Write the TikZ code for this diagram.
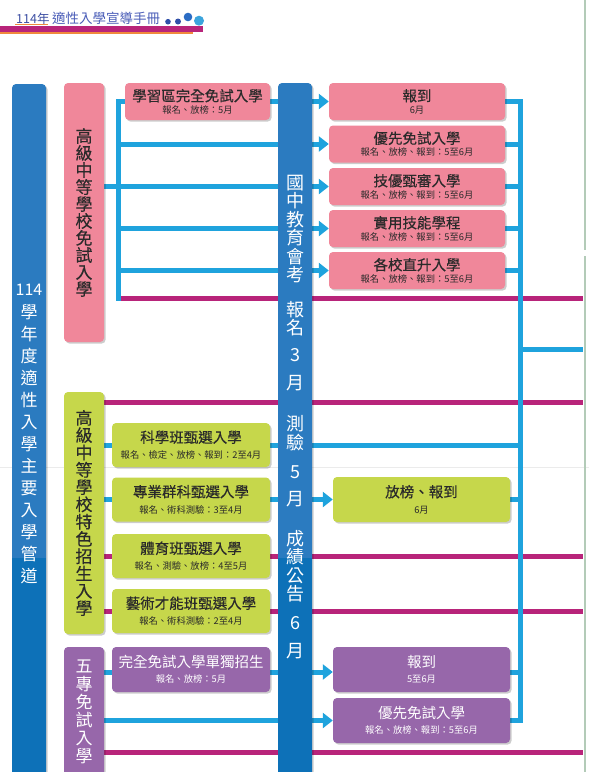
\documentclass[tikz,border=0pt]{standalone}
\usepackage{fontspec}
\setmainfont{Noto Sans CJK TC}
\newfontfamily\medf[FakeBold=0.35]{Noto Sans CJK TC}
\usetikzlibrary{arrows.meta,shadows}
\definecolor{cCB}{HTML}{1FA3DD}
\definecolor{cMG}{HTML}{B8247A}
\definecolor{cCol}{HTML}{2B7BC0}
\definecolor{cColD}{HTML}{0D71B8}
\definecolor{cPK}{HTML}{F0879A}
\definecolor{cGR}{HTML}{C6D74B}
\definecolor{cPU}{HTML}{9767AA}
\definecolor{cHd}{HTML}{3D4FA3}
\definecolor{cHd2}{HTML}{4A5DB8}
\definecolor{cOR}{HTML}{F08A3C}
\definecolor{cEdge}{HTML}{B3CBB8}
\definecolor{cTxt}{HTML}{2A2A2A}
\definecolor{cDot1}{HTML}{2F4FA8}
\definecolor{cDot2}{HTML}{2B6CC4}
\definecolor{cDot3}{HTML}{3BA4DC}
\pgfdeclarelayer{back}
\pgfdeclarelayer{bg}
\pgfsetlayers{back,bg,main}
\newcommand\subf{\normalfont\fontsize{9.3}{10}\selectfont}
\newcommand\twol[3][0pt]{#2\\[#1]{\subf #3}}
\begin{document}
\begin{tikzpicture}[x=1pt,y=-1pt,
  bl/.style={draw=cCB,line width=5pt},
  mgl/.style={draw=cMG,line width=5pt},
  arr/.style={-{Triangle[length=10pt,width=15pt]}},
  sh/.style={drop shadow={shadow xshift=1.6pt,shadow yshift=-1.6pt,fill=black,opacity=0.2}},
  box/.style={rectangle,rounded corners=4pt,inner sep=0pt,align=center,sh,font=\medf\fontsize{14.5}{15}\selectfont},
  pkb/.style={box,fill=cPK,text=cTxt,minimum height=37pt},
  grb/.style={box,fill=cGR,text=cTxt,minimum height=44pt},
  pub/.style={box,fill=cPU,text=white,minimum height=45pt},
  colnode/.style={rectangle,rounded corners=4pt,inner sep=0pt,fill=cCol,minimum width=34pt,sh},
  sec/.style={rectangle,rounded corners=4pt,inner sep=0pt,align=center,minimum width=40pt,sh},
  vtxt/.style={anchor=north,inner sep=0pt,align=center,text=white},
]
\useasboundingbox (0,0) rectangle (589,772);
\begin{pgfonlayer}{back}
\fill[white] (0,0) rectangle (589,772);
\draw[black!8,line width=0.7pt] (0,467) -- (589,467);
\end{pgfonlayer}

% header
\node[anchor=west,inner sep=0pt,text=cHd,font=\fontsize{12.5}{13}\selectfont] (h114) at (16,19) {114年};
\node[anchor=west,inner sep=0pt,text=cHd2,font=\fontsize{13.5}{14}\selectfont] (htitle) at (52,18.5) {適性入學宣導手冊};
\fill[cDot1] (168,21.7) circle (2.8);
\fill[cDot1] (178,21.5) circle (3);
\fill[cDot2] (188,17) circle (4.3);
\fill[cDot3] (199,20.7) circle (5);
\fill[cOR] (15,24) rectangle (48,25.3);
\fill[cMG] (0,26) rectangle (203,31.8);
\fill[cOR] (0,31.8) rectangle (193,33.5);

% right page edge
\draw[cEdge,line width=1.8pt] (585,0) -- (585,250) (585,256) -- (585,772);

% columns
\node[colnode,minimum height=716pt] (lcol) at (29,442) {};
\node[colnode,minimum height=717pt] (ccol) at (295,441.5) {};
\fill[cColD] (lcol.west |- 0,558) rectangle (lcol.south east);
\fill[cColD] (ccol.west |- 0,558) rectangle (ccol.south east);
\node[vtxt,font=\fontsize{17}{22}\selectfont] (ltxt) at (29,284) {{\fontsize{16}{22}\selectfont 114}\\[1pt]學\\年\\度\\適\\性\\入\\學\\主\\要\\入\\學\\管\\道};
\node[vtxt,font=\fontsize{18}{18.4}\selectfont] (ctxt) at (295,175) {國\\中\\教\\育\\會\\考\\[16.6pt]報\\名\\[8.6pt]3\\[9.6pt]月\\[22.6pt]測\\驗\\[10.6pt]5\\[8.6pt]月\\[21.6pt]成\\績\\公\\告\\[10.6pt]6\\[9.6pt]月};

% section columns
\node[sec,fill=cPK,text=cTxt,minimum height=259pt,font=\medf\fontsize{17}{17}\selectfont] (pkcol) at (84,212.5) {高\\級\\中\\等\\學\\校\\免\\試\\入\\學};
\node[sec,fill=cGR,text=cTxt,minimum height=242pt,font=\medf\fontsize{17}{17.3}\selectfont] (grcol) at (84,513) {高\\級\\中\\等\\學\\校\\特\\色\\招\\生\\入\\學};
\node[sec,fill=cPU,text=white,minimum height=129pt,font=\fontsize{17}{18}\selectfont] (pucol) at (84,711.5) {五\\專\\免\\試\\入\\學};

% pink boxes
\node[pkb,minimum width=145pt] (pl1) at (197.5,101.5) {\twol[-3pt]{學習區完全免試入學}{報名、放榜：5月}};
\node[pkb,minimum width=176pt] (r1) at (417,101.5) {\twol[-3pt]{報到}{6月}};
\node[pkb,minimum width=176pt] (r2) at (417,144) {\twol[-3pt]{優先免試入學}{報名、放榜、報到：5至6月}};
\node[pkb,minimum width=176pt] (r3) at (417,186.5) {\twol[-3pt]{技優甄審入學}{報名、放榜、報到：5至6月}};
\node[pkb,minimum width=176pt] (r4) at (417,228.5) {\twol[-3pt]{實用技能學程}{報名、放榜、報到：5至6月}};
\node[pkb,minimum width=176pt] (r5) at (417,270.5) {\twol[-3pt]{各校直升入學}{報名、放榜、報到：5至6月}};

% green boxes
\node[grb,minimum width=158pt] (g1) at (191,445) {\twol[1pt]{科學班甄選入學}{報名、檢定、放榜、報到：2至4月}};
\node[grb,minimum width=158pt] (g2) at (191,499.5) {\twol[1pt]{專業群科甄選入學}{報名、術科測驗：3至4月}};
\node[grb,minimum width=158pt] (g3) at (191,556) {\twol[1pt]{體育班甄選入學}{報名、測驗、放榜：4至5月}};
\node[grb,minimum width=158pt] (g4) at (191,611) {\twol[1pt]{藝術才能班甄選入學}{報名、術科測驗：2至4月}};
\node[grb,minimum width=177pt,minimum height=45pt] (g5) at (421.5,499.5) {\twol[1pt]{放榜、報到}{6月}};

% purple boxes
\node[pub,minimum width=158pt,font=\fontsize{14.5}{15}\selectfont] (p1) at (191,669.5) {\twol{完全免試入學單獨招生}{報名、放榜：5月}};
\node[pub,minimum width=177pt,font=\fontsize{14.5}{15}\selectfont] (q1) at (421.5,669.5) {\twol{報到}{5至6月}};
\node[pub,minimum width=177pt,font=\fontsize{14.5}{15}\selectfont] (q2) at (421.5,720.5) {\twol{優先免試入學}{報名、放榜、報到：5至6月}};

% coordinates
\coordinate (pv) at (118,0);
\coordinate (m1) at (118,298);
\coordinate (m2) at (104,402);
\coordinate (m3) at (104,752);
\coordinate (rv) at (520,349);
\coordinate (ex) at (583,349);
\coordinate (q1w) at ([yshift=-2.5pt]q1.west);
\coordinate (q1e) at ([yshift=-2.5pt]q1.east);

\begin{pgfonlayer}{bg}
\draw[mgl] (m1) -- (ex |- m1);
\draw[mgl] (m2) -- (ex |- m2);
\draw[mgl] (grcol.east |- g3) -- (ex |- g3);
\draw[mgl] (grcol.east |- g4) -- (ex |- g4);
\draw[mgl] (m3) -- (ex |- m3);
% pink branch
\draw[bl] (pkcol.east |- r3) -- (pv |- r3);
\foreach \b in {r1,r2,r3,r4,r5} \draw[bl,arr] (pv |- \b) -- (\b.west);
\draw[bl,line cap=rect] (pv |- r1) -- (m1);
% collector
\draw[bl] (r1.east) -| (rv |- q2) -- (q2.east);
\foreach \b in {r2,r3,r4,r5,g5} \draw[bl] (\b.east) -- (rv |- \b);
\draw[bl] (q1e) -- (rv |- q1e);
\draw[bl] (rv) -- (ex);
% green branch
\draw[bl] (grcol.east |- g1) -- (rv |- g1);
\draw[bl,arr] (grcol.east |- g2) -- (g5.west);
% purple branch
\draw[bl,arr] (pucol.east |- q1w) -- (q1w);
\draw[bl,arr] (pucol.east |- q2) -- (q2.west);
\end{pgfonlayer}
\end{tikzpicture}
\end{document}
